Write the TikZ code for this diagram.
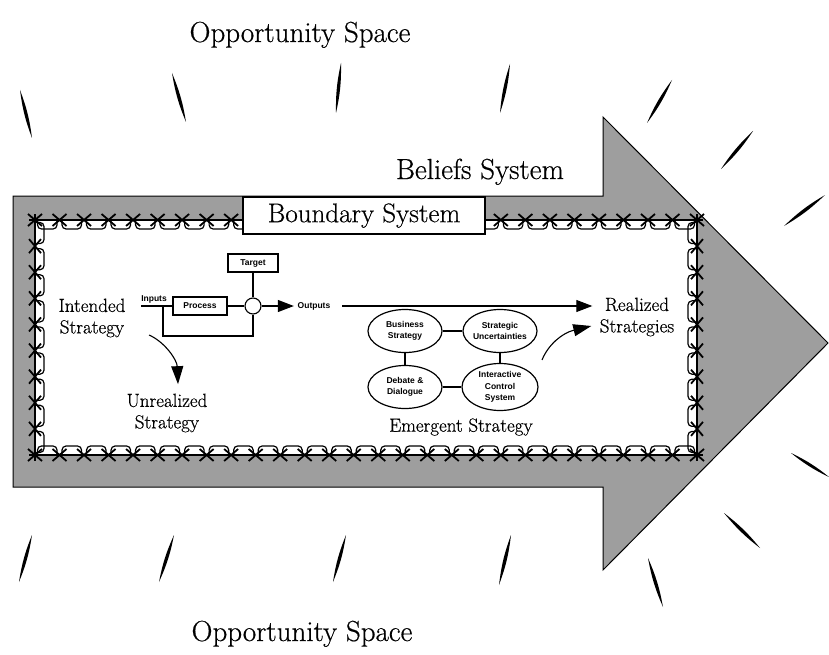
\documentclass[tikz,border=0pt]{standalone}
\usepackage{fontspec}
\setmainfont{Latin Modern Roman}[FakeBold=0.5]
\newfontfamily\smallsans{Liberation Sans}
\usetikzlibrary{arrows.meta,shapes.geometric}
\definecolor{arrowgray}{gray}{0.62}
\begin{document}
\begin{tikzpicture}[x=1pt,y=-1pt,line width=1.1pt,
  bigtext/.style={font=\fontsize{29}{32}\selectfont, inner sep=0pt},
  midtext/.style={font=\fontsize{19}{21.5}\selectfont, align=center, inner sep=0pt},
  tinytext/.style={font=\smallsans\bfseries\fontsize{8.5}{11.5}\selectfont, align=center},
  smallbox/.style={draw, tinytext, inner sep=0pt, line width=1.1pt},
  bubble/.style={ellipse, draw, tinytext, inner sep=-4pt, line width=1.2pt, minimum width=74pt, minimum height=43pt},
  wireline/.style={line width=1.2pt},
  barbline/.style={line width=1.8pt},
  bigtip/.style={-{Triangle[length=16pt,width=12pt]}},
  curvetip/.style={-{Triangle[length=18pt,width=12pt]}},
]
\useasboundingbox (0,0) rectangle (829,655);
% big arrow (beliefs system)
\filldraw[fill=arrowgray, line width=1pt] (13,196) -- (603,196) -- (603,117) -- (828,343) -- (603,570) -- (603,487) -- (13,487) -- cycle;
\fill[white] (35,220) rectangle (697,455);
% barbed wire (boundary system)
\draw[wireline] (29,220) -- (703,220) (35,214) -- (35,461) (697,214) -- (697,461) (29,455) -- (703,455);
\foreach \i in {0,...,26}{
  \pgfmathsetmacro\xa{37.5+\i*24.5185}
  \pgfmathsetmacro\xb{32.5+(\i+1)*24.5185}
  \draw[wireline,rounded corners=4pt] (\xa,220) -- (\xa,229) -- (\xb,229) -- (\xb,220);
  \draw[wireline,rounded corners=4pt] (\xa,455) -- (\xa,446) -- (\xb,446) -- (\xb,455);
}
\foreach \i in {0,...,8}{
  \pgfmathsetmacro\ya{222.5+\i*26.111}
  \pgfmathsetmacro\yb{217.5+(\i+1)*26.111}
  \draw[wireline,rounded corners=4pt] (35,\ya) -- (44,\ya) -- (44,\yb) -- (35,\yb);
  \draw[wireline,rounded corners=4pt] (697,\ya) -- (688,\ya) -- (688,\yb) -- (697,\yb);
}
\foreach \i in {0,...,27}{
  \pgfmathsetmacro\xa{35+\i*24.5185}
  \draw[barbline] (\xa,220) +(-7,-6) -- +(7,6) +(-7,6) -- +(7,-6);
  \draw[barbline] (\xa,455) +(-7,-6) -- +(7,6) +(-7,6) -- +(7,-6);
}
\foreach \i in {1,...,8}{
  \pgfmathsetmacro\ya{220+\i*26.111}
  \draw[barbline] (35,\ya) +(-6,-7) -- +(6,7) +(-6,7) -- +(6,-7);
  \draw[barbline] (697,\ya) +(-6,-7) -- +(6,7) +(-6,7) -- +(6,-7);
}
\node[draw, fill=white, line width=1.1pt, minimum width=242pt, minimum height=37pt, inner sep=0pt, font=\fontsize{27}{30}\selectfont] (boundary) at (364,215.5) {Boundary System};
% spikes of the opportunity space
\foreach \xa/\ya/\xb/\yb in {20/90/32/138, 172/73/186/122, 341/63/336/113, 510/64/500/113, 672/80/647/123, 753/131/721/169, 825/195/784/226, 791/453/829/477, 724/513/760/548, 648/558/663/607, 32/535/19/582, 174/535/159/582, 346/535/333/582, 511/535/499/585}
  \fill (\xa,\ya) to[bend left=6.5] (\xb,\yb) to[bend left=6.5] (\xa,\ya);
% labels
\node[bigtext, anchor=base] (opptop) at (300,42) {Opportunity Space};
\node[bigtext, anchor=base] (oppbot) at (302,641) {Opportunity Space};
\node[bigtext, anchor=base] (beliefs) at (480,179) {Beliefs System};
\node[midtext] (intended) at (92,318) {Intended\\Strategy};
\node[midtext] (unrealized) at (167,413) {Unrealized\\Strategy};
\node[midtext] (realized) at (637,317) {Realized\\Strategies};
\node[midtext] (emergent) at (461,427) {Emergent Strategy};
% control loop
\node[smallbox, minimum width=54pt, minimum height=18pt] (process) at (200,306) {Process};
\node[smallbox, minimum width=50pt, minimum height=18pt] (target) at (253,263) {Target};
\node[circle, draw, minimum size=16pt, inner sep=0pt, line width=1.1pt] (sum) at (253,306) {};
\node[tinytext, anchor=base] (inputs) at (154,301) {Inputs};
\node[tinytext] (outputs) at (314,306) {Outputs};
\coordinate (inleft) at (141,306);
\coordinate (fb) at (163,306);
\draw (inleft) -- (process.west);
\draw (process.east) -- (sum.west);
\draw (target.south) -- (sum.north);
\draw (fb) -- ++(0,30) -| (sum.south);
\draw[bigtip] (sum.east) -- (outputs.west);
\draw[bigtip, shorten >=7pt] ([xshift=8pt]outputs.east) -- (outputs.east -| realized.west);
% emergent strategy bubbles
\node[bubble] (bus) at (405,331) {Business\\Strategy};
\node[bubble] (unc) at (500,331) {Strategic\\Uncertainties};
\node[bubble] (deb) at (405,387) {Debate \&\\Dialogue};
\node[bubble, minimum width=76pt, minimum height=47pt] (ics) at (500,387) {Interactive\\Control\\System};
\draw (bus) -- (unc);
\draw (bus) -- (deb);
\draw (unc) -- (ics);
\draw (deb) -- (ics);
% curved arrows
\coordinate (c1) at (149,335);
\draw[curvetip] (c1) .. controls (165,342) and (177,360) .. ([xshift=11pt,yshift=9pt]unrealized.north);
\coordinate (c2) at (542,360);
\draw[curvetip] (c2) .. controls (548,345) and (562,333) .. ([xshift=-8pt,yshift=-9pt]realized.west);
\end{tikzpicture}
\end{document}
